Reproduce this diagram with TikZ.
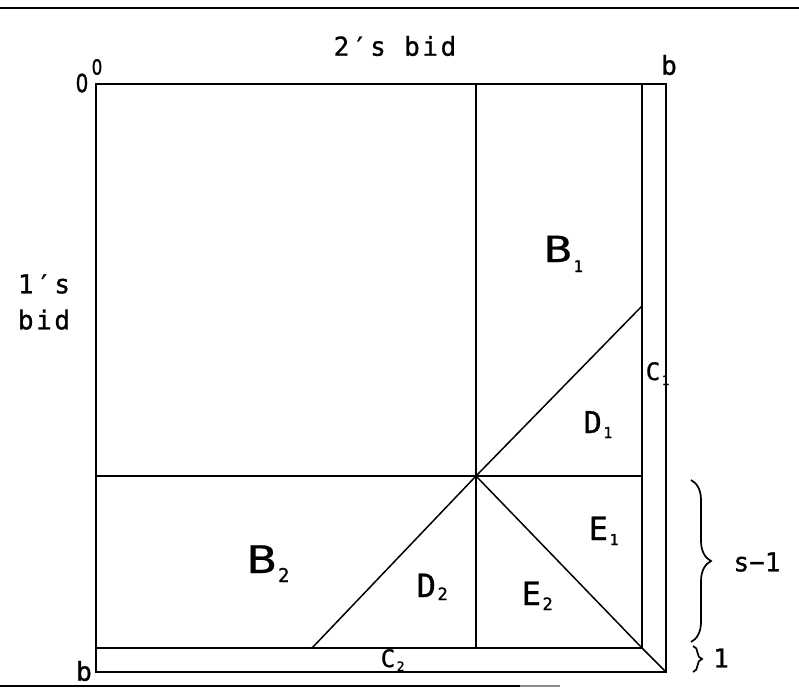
\documentclass[tikz,border=0pt]{standalone}
\usepackage{fontspec}
\setmainfont{DejaVu Sans Mono}
\newfontfamily\plot[FakeBold=1]{DejaVu Sans Mono}
\newfontfamily\plotwide[FakeBold=0.4,FakeStretch=1.3]{DejaVu Sans Mono}
\newfontfamily\plotzero[FakeBold=1,FakeStretch=0.8]{DejaVu Sans}
\newfontfamily\spacedmono[LetterSpace=10,FakeBold=1]{DejaVu Sans Mono}
\usetikzlibrary{decorations.pathreplacing}
% #1 letter, #2 index, #3 letter size, #4 index size, #5 family, #6 drop
\newcommand\regionlab[6]{{#5\fontsize{#3}{#3}\selectfont #1}\kern1.5pt\raisebox{-#6pt}{\plot\fontsize{#4}{#4}\selectfont #2}}
\begin{document}
\begin{tikzpicture}[x=1pt,y=-1pt,line width=1.5pt,
  axislab/.style={font=\spacedmono\fontsize{26}{36}\selectfont, inner sep=0pt, align=center},
  cornerlab/.style={font=\plot\fontsize{26}{26}\selectfont, inner sep=0pt},
  region/.style={inner sep=0pt, anchor=base west},
  bracestyle/.style={line width=1.7pt, decorate},
  rule/.style={line width=2.4pt}]
\useasboundingbox (0,0) rectangle (799,696);
% rules
\coordinate (rl) at (0,8);
\coordinate (rr) at (799,8);
\draw[rule] (rl) -- (rr);
\coordinate (bl) at (0,686);
\coordinate (bm) at (520,686);
\coordinate (br) at (560,686);
\draw[line width=2pt] (bl) -- (bm);
\draw[line width=2pt, black!45] (bm) -- (br);
% main square
\coordinate (O) at (96,84);
\coordinate (TR) at (666,84);
\coordinate (BR) at (666,672);
\coordinate (BL) at (96,672);
\draw (O) -- (TR) -- (BR) -- (BL) -- cycle;
% inner strips
\coordinate (iT) at (642,84);
\coordinate (iC) at (642,648);
\coordinate (iL) at (96,648);
\draw (iT) -- (iC) -- (iL);
% middle lines
\coordinate (C) at (476,476);
\coordinate (mT) at (476,84);
\coordinate (mB) at (476,648);
\coordinate (mL) at (96,476);
\coordinate (mR) at (642,476);
\draw (mT) -- (mB);
\draw (mL) -- (mR);
% diagonals
\coordinate (dUR) at (642,306);
\coordinate (dBL) at (312,648);
\draw (C) -- (dUR);
\draw (C) -- (dBL);
\draw (C) -- (iC) -- (BR);
% axis labels
\node[axislab] (bid2) at (395,46) {2′s bid};
\node[axislab] (bid1) at (44,302) {1′s\\bid};
\node[font=\plotzero\fontsize{25}{25}\selectfont, inner sep=0pt] (z1) at (82,83) {0};
\node[font=\plotzero\fontsize{21}{21}\selectfont, inner sep=0pt] (z2) at (97,67) {0};
\node[cornerlab] (bT) at (669,65) {b};
\node[cornerlab] (bB) at (84,671) {b};
% region labels
\node[region] (B1) at (543,262) {\regionlab{B}{1}{36}{16}{\plotwide}{10}};
\node[region] (B2) at (246,573) {\regionlab{B}{2}{38}{19}{\plotwide}{9}};
\node[region] (D1) at (583,433) {\regionlab{D}{1}{30}{15}{\plot}{5}};
\node[region] (E1) at (588,540) {\regionlab{E}{1}{32}{15}{\plot}{5}};
\node[region] (D2) at (416,597) {\regionlab{D}{2}{32}{17}{\plot}{3}};
\node[region] (E2) at (521,605) {\regionlab{E}{2}{32}{17}{\plot}{5}};
\node[region] (C1) at (645,380) {\regionlab{C}{1}{24}{13}{\plot}{5}};
\node[region] (C2) at (380,667) {\regionlab{C}{2}{24}{13}{\plot}{4}};
% braces
\coordinate (s1a) at (691,480);
\coordinate (s1b) at (691,642);
\draw[bracestyle, decoration={brace, amplitude=20pt}] (s1a) -- (s1b);
\node[inner sep=0pt, font=\plot\fontsize{26}{26}\selectfont] (sm1) at (757,562) {s−1};
\coordinate (u1a) at (693,646);
\coordinate (u1b) at (693,672);
\draw[bracestyle, decoration={brace, amplitude=9pt}] (u1a) -- (u1b);
\node[inner sep=0pt, font=\plot\fontsize{26}{26}\selectfont] (one) at (721,658) {1};
\end{tikzpicture}
\end{document}
